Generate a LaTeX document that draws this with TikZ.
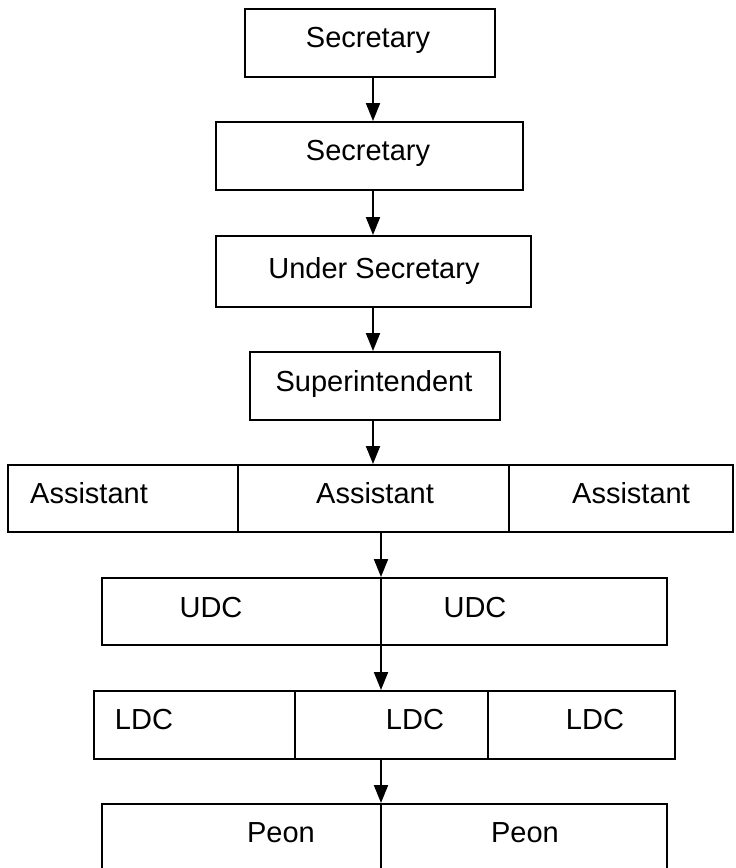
\documentclass[tikz,border=0pt]{standalone}
\usepackage{fontspec}
\setmainfont{Liberation Sans}
\usepackage{tikz}
\usetikzlibrary{calc,arrows.meta}
\newcommand{\tikzRankNode}[6]{
  \node[draw,rectangle,inner sep=0pt,minimum width=#3*0.5pt,minimum height=#4*0.5pt] (#1) at (#2) {};
  \node[anchor=base,inner sep=0pt] (#1t) at (#5) {#6};
}

\begin{document}
\begin{tikzpicture}[x=0.5pt,y=-0.5pt,line width=1pt,>={Triangle[length=9pt,width=7pt]},font=\fontsize{14.5}{17}\selectfont]
  \useasboundingbox (0,0) rectangle (735,868);
  \clip (0,0) rectangle (735,868);
  \coordinate (spine) at (373,0);
  \coordinate (spineb) at (381,0);
  \tikzRankNode{sec}{370,43}{250}{68}{368,47}{Secretary}
  \tikzRankNode{secb}{369.5,156}{307}{68}{368,160}{Secretary}
  \tikzRankNode{usec}{373.5,271.5}{315}{71}{374,278}{Under Secretary}
  \tikzRankNode{supt}{375,386}{250}{68}{374,391}{Superintendent}
  \tikzRankNode{asta}{123,498.5}{230}{67}{89,503}{Assistant}
  \tikzRankNode{astb}{373.5,498.5}{271}{67}{375,503}{Assistant}
  \tikzRankNode{astc}{621,498.5}{224}{67}{631,503}{Assistant}
  \tikzRankNode{udca}{241.5,611.5}{279}{67}{211,617}{UDC}
  \tikzRankNode{udcb}{524,611.5}{286}{67}{475,617}{UDC}
  \tikzRankNode{ldca}{194.5,725}{201}{68}{144,729}{LDC}
  \tikzRankNode{ldcb}{391.5,725}{193}{68}{415,729}{LDC}
  \tikzRankNode{ldcc}{581.5,725}{187}{68}{595,729}{LDC}
  \tikzRankNode{peona}{241.5,840}{279}{72}{281,842}{Peon}
  \tikzRankNode{peonb}{524,840}{286}{72}{525,842}{Peon}
  \draw[->] (sec.south -| spine) -- (secb.north -| spine);
  \draw[->] (secb.south -| spine) -- (usec.north -| spine);
  \draw[->] (usec.south -| spine) -- (supt.north -| spine);
  \draw[->] (supt.south -| spine) -- (astb.north -| spine);
  \draw[->] (astb.south -| spineb) -- (udca.north -| spineb);
  \draw[->] (udca.south -| spineb) -- (ldcb.north -| spineb);
  \draw[->] (ldcb.south -| spineb) -- (peona.north -| spineb);
\end{tikzpicture}
\end{document}
